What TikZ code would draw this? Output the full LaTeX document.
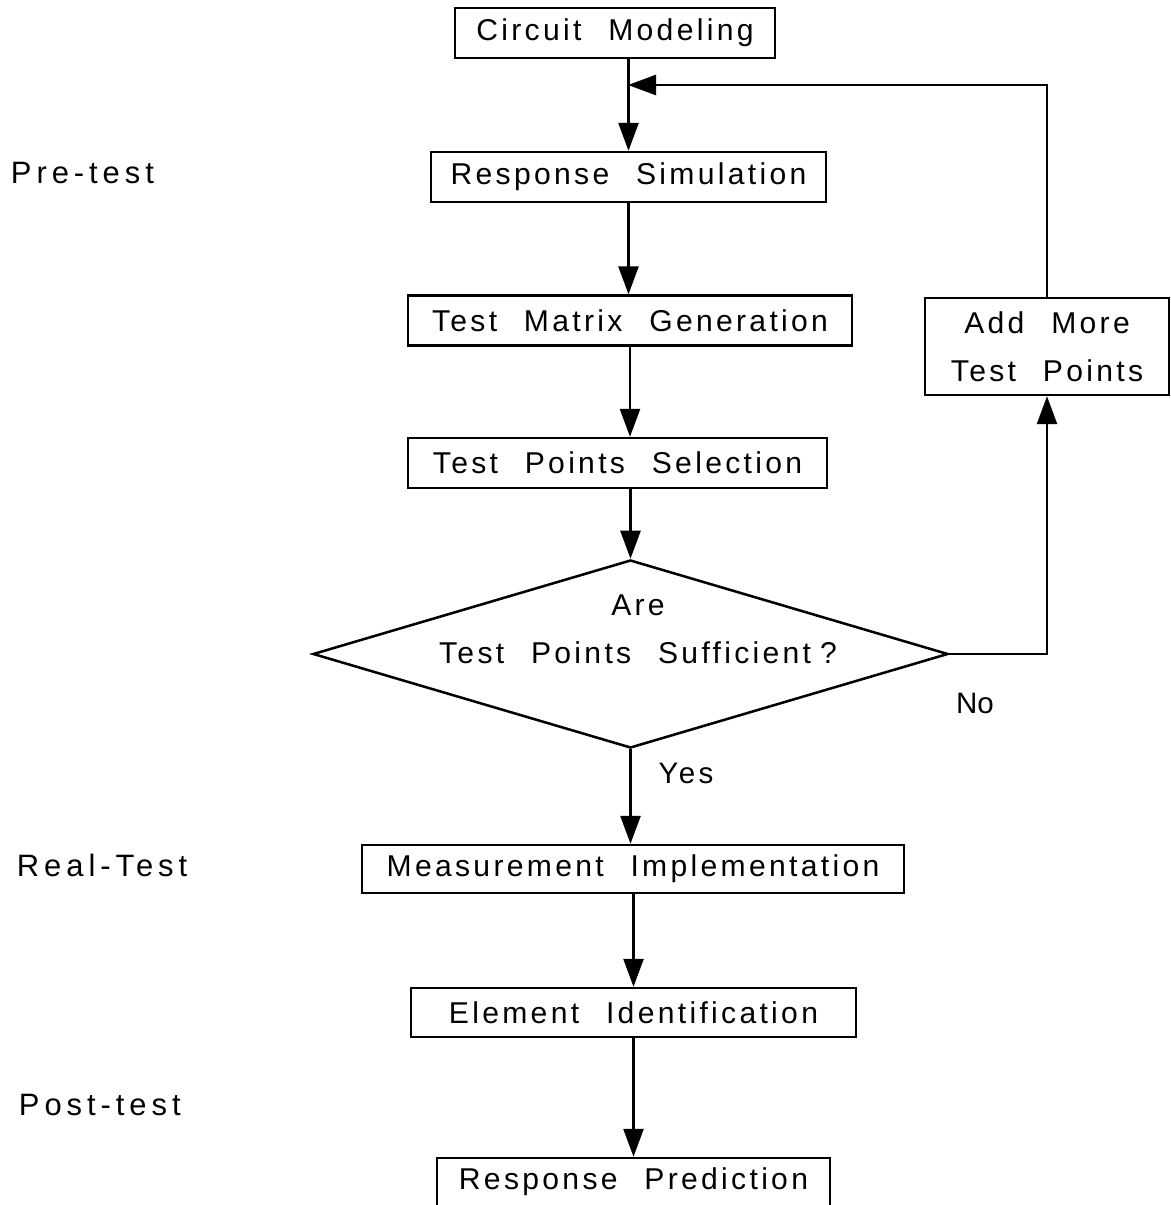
\documentclass[tikz,border=0pt]{standalone}
\usepackage{fontspec}
\setmainfont{Liberation Sans}
\newfontfamily\boxfont{Liberation Sans}[LetterSpace=11,WordSpace=2.3]
\newfontfamily\sidefont{Liberation Sans}[LetterSpace=16]
\usetikzlibrary{arrows.meta,shapes.geometric}

\begin{document}
\begin{tikzpicture}[x=0.025cm, y=-0.025cm,
    stage/.style={draw, line width=1.7pt, minimum height=1.25cm, inner sep=0pt, align=center,
        font=\boxfont\fontsize{21.4}{34}\selectfont},
    decision/.style={draw, diamond, line width=1.8pt, minimum width=15.875cm, minimum height=4.7cm, inner sep=0pt},
    flow/.style={line width=1.8pt, -{Triangle[length=0.7cm, width=0.5cm]}},
    phase/.style={anchor=west, font=\sidefont\fontsize{22}{26}\selectfont}]
    \useasboundingbox (0,0) rectangle (1171,1205);

    % Pre-test stages
    \node[stage, minimum width=8cm] (model) at (615,33) {Circuit Modeling};
    \node[stage, minimum width=9.875cm] (sim) at (628.5,177) {Response Simulation};
    \node[stage, minimum width=11.1cm] (matrix) at (630,320.5) {Test Matrix Generation};
    \node[stage, minimum width=10.475cm] (select) at (617.5,463) {Test Points Selection};

    % Decision
    \node[decision] (check) at (630.5,654) {};
    \node[align=center, font=\boxfont\fontsize{21.4}{34}\selectfont] (checktext) at (638,629) {Are\\Test Points Sufficient\hspace{0.3em}?};
    \node[stage, minimum width=6.1cm, minimum height=2.425cm] (more) at (1047,346.5) {Add More\\Test Points};

    % Real-test and post-test stages
    \node[stage, minimum width=13.55cm, minimum height=1.2cm] (measure) at (633,869) {Measurement Implementation};
    \node[stage, minimum width=11.125cm, minimum height=1.225cm] (ident) at (633.5,1012.5) {Element Identification};
    \node[stage, minimum width=9.825cm, minimum height=1.2cm] (predict) at (633.5,1182) {Response Prediction};

    % Phase labels
    \node[phase] (pre) at (6,173) {Pre-test};
    \node[phase] (real) at (12,865) {Real-Test};
    \node[phase] (post) at (14,1105) {Post-test};

    % Flow
    \coordinate (join) at (628,85);
    \draw[flow] (sim.north |- model.south) -- (sim.north);
    \draw[flow] (sim.south) -- (sim.south |- matrix.north);
    \draw[flow] (matrix.south) -- (matrix.south |- select.north);
    \draw[flow] (check.north |- select.south) -- (check.north);
    \draw[flow] (check.south) -- (check.south |- measure.north);
    \draw[flow] (measure.south -| ident.north) -- (ident.north);
    \draw[flow] (ident.south) -- (predict.north);

    % Loop back
    \draw[flow] (check.east) -| (more.south);
    \draw[flow] (more.north) |- (join);
    \node[font=\fontsize{21}{24}\selectfont] (no) at (975,703) {No};
    \node[font=\boxfont\fontsize{21}{24}\selectfont] (yes) at (686,773) {Yes};
\end{tikzpicture}
\end{document}
